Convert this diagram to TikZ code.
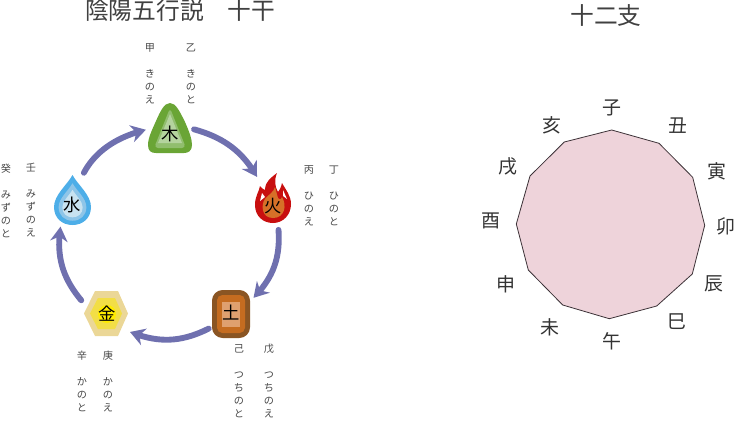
\documentclass[tikz,border=0pt]{standalone}
\usepackage{fontspec}
\setmainfont{Noto Sans CJK JP}
\usetikzlibrary{arrows.meta,bending}

\definecolor{cycleblue}{RGB}{111,112,175}
\definecolor{textgray}{RGB}{70,70,70}

\tikzset{every picture/.style={line width=0.75pt}}
\tikzset{
  titletext/.style={text=black!75,font=\fontsize{17.8}{20}\selectfont,inner sep=0pt},
  branchtext/.style={text=black!80,font=\fontsize{14.2}{16}\selectfont,inner sep=0pt},
  stemtext/.style={text=textgray,font=\fontsize{7.6}{9.75}\selectfont,align=center,anchor=north,inner sep=0pt},
  elemtext/.style={circle,text=black,font=\fontsize{13}{15}\selectfont,inner sep=0pt,minimum size=#1},
  cyclearrow/.style={draw=cycleblue,line width=4.4pt,line cap=round,-{Stealth[length=11pt,width=13pt,flex=1]}},
}

\begin{document}
\begin{tikzpicture}[x=0.75pt,y=0.75pt,yscale=-1,xscale=1]
\useasboundingbox (0,0) rectangle (737,421);

%Shape: Wood
\fill [color={rgb, 255:red, 106; green, 165; blue, 53 }] (170,103) .. controls (176,103) and (180,112) .. (185,122) .. controls (189,131) and (192,139) .. (192,145) .. controls (192,151) and (188,153) .. (184,153) -- (156,153) .. controls (151,153) and (148,151) .. (148,145) .. controls (148,138) and (152,130) .. (156,121) .. controls (160,112) and (164,103) .. (170,103) -- cycle ;
\fill [color={rgb, 255:red, 145; green, 190; blue, 110 }] [rounded corners=3] (170,108) -- (186,148) -- (154,148) -- cycle ;
\fill [color={rgb, 255:red, 180; green, 211; blue, 158 }] (170,114) -- (182,143) -- (158,143) -- cycle ;

%Shape: Fire
\fill [color={rgb, 255:red, 200; green, 15; blue, 15 }] (277,173) .. controls (272,177) and (265,181) .. (265,190) .. controls (263,189) and (261,188) .. (260,186) .. controls (259,192) and (255,196) .. (255,205) .. controls (255,216) and (263,223) .. (273,223) .. controls (283,223) and (291,215) .. (291,204) .. controls (291,196) and (286,190) .. (282,183) .. controls (281,187) and (280,190) .. (278,192) .. controls (275,187) and (274,180) .. (277,173) -- cycle ;
\fill [white] (262,193) -- (260,201) -- (265,197) -- cycle ;
\fill [white] (283,190) -- (287,199) -- (283,196) -- cycle ;
\fill [color={rgb, 255:red, 214; green, 112; blue, 40 }] (275,187) .. controls (274,192) and (268,195) .. (265,199) .. controls (261,204) and (261,218) .. (273,218) .. controls (285,218) and (287,205) .. (282,197) .. controls (281,200) and (279,200) .. (278,198) -- cycle ;

%Shape: Earth
\fill [color={rgb, 255:red, 138; green, 85; blue, 35 }] [rounded corners=8] (212,290) rectangle (250,338) ;
\fill [color={rgb, 255:red, 197; green, 108; blue, 32 }] [rounded corners=4] (217,295) rectangle (245,333) ;
\fill [color={rgb, 255:red, 223; green, 160; blue, 111 }] (222,302) rectangle (240,327) ;

%Shape: Metal
\fill [color={rgb, 255:red, 235; green, 215; blue, 151 }] (84,313.5) -- (95,291) -- (118,291) -- (128,313.5) -- (118,336) -- (95,336) -- cycle ;
\fill [color={rgb, 255:red, 242; green, 222; blue, 70 }] (90,313.5) -- (98,298) -- (115,298) -- (122,313.5) -- (115,329) -- (98,329) -- cycle ;
\fill [color={rgb, 255:red, 255; green, 236; blue, 0 }] (107,314) circle (9) ;

%Shape: Water
\fill [color={rgb, 255:red, 77; green, 174; blue, 232 }] (72.5,175) .. controls (78,185) and (91,195) .. (91,207) .. controls (91,218) and (83,225) .. (72.5,225) .. controls (62,225) and (54,218) .. (54,207) .. controls (54,195) and (67,185) .. (72.5,175) -- cycle ;
\begin{scope}[shift={(72.5,208)},scale=0.75]
\fill [color={rgb, 255:red, 142; green, 197; blue, 232 }] (0,-33) .. controls (5.5,-23) and (18.5,-13) .. (18.5,-1) .. controls (18.5,10) and (10.5,17) .. (0,17) .. controls (-10.5,17) and (-18.5,10) .. (-18.5,-1) .. controls (-18.5,-13) and (-5.5,-23) .. (0,-33) -- cycle ;
\end{scope}
\begin{scope}[shift={(72.5,208)},scale=0.55]
\fill [color={rgb, 255:red, 200; green, 226; blue, 240 }] (0,-33) .. controls (5.5,-23) and (18.5,-13) .. (18.5,-1) .. controls (18.5,10) and (10.5,17) .. (0,17) .. controls (-10.5,17) and (-18.5,10) .. (-18.5,-1) .. controls (-18.5,-13) and (-5.5,-23) .. (0,-33) -- cycle ;
\end{scope}

%Element nodes
\node [elemtext=36pt] (wood) at (170,134) {木};
\node [elemtext=36pt] (fire) at (273,206) {火};
\node [elemtext=40pt] (earth) at (231,313) {土};
\node [elemtext=43pt] (metal) at (107,314) {金};
\node [elemtext=36pt] (water) at (72,205) {水};

%Curve Lines
\draw [cyclearrow,shorten >=6.5pt] (wood.11) to [bend right=24] (fire.119) ;
\draw [cyclearrow] (fire.-77) to [bend right=24] (earth.34) ;
\draw [cyclearrow] (earth.215) to [bend right=24] (metal.-38) ;
\draw [cyclearrow] (metal.152) to [bend right=24] (water.242) ;
\draw [cyclearrow,shorten <=7.5pt] (water.73) to [bend right=24] (wood.170) ;

%Ten stems
\node [stemtext] (kinoe) at (150,43.5) {甲\\[9.75pt]き\\の\\え};
\node [stemtext] (kinoto) at (191,43.5) {乙\\[9.75pt]き\\の\\と};
\node [stemtext] (hinoe) at (309,165) {丙\\[9.75pt]ひ\\の\\え};
\node [stemtext] (hinoto) at (334,165) {丁\\[9.75pt]ひ\\の\\と};
\node [stemtext] (tsuchinoe) at (269,343.5) {戊\\[9.75pt]つ\\ち\\の\\え};
\node [stemtext] (tsuchinoto) at (239,344.5) {己\\[9.75pt]つ\\ち\\の\\と};
\node [stemtext] (kanoe) at (108,350) {庚\\[9.75pt]か\\の\\え};
\node [stemtext] (kanoto) at (82,350) {辛\\[9.75pt]か\\の\\と};
\node [stemtext] (mizunoe) at (31,163) {壬\\[9.75pt]み\\ず\\の\\え};
\node [stemtext] (mizunoto) at (6,163) {癸\\[9.75pt]み\\ず\\の\\と};

%Titles
\node [titletext] (stemstitle) at (180,11) {陰陽五行説　十干};
\node [titletext] (branchtitle) at (606,16) {十二支};

%Shape: Polygon
\draw [draw={rgb, 255:red, 60; green, 50; blue, 55 },fill={rgb, 255:red, 238; green, 211; blue, 218 },line width=0.6pt] (611.7,130) -- (659,143.3) -- (692.7,177.3) -- (704.7,225.3) -- (692.3,274) -- (656.7,306) -- (609.3,318.7) -- (562.7,305) -- (528.3,270) -- (516.3,224) -- (530,176) -- (564.3,142) -- cycle ;

%Twelve branches
\node [branchtext] (ne) at (612,108) {子};
\node [branchtext] (ushi) at (678,126) {丑};
\node [branchtext] (tora) at (717,171) {寅};
\node [branchtext] (u) at (726,226) {卯};
\node [branchtext] (tatsu) at (714,284) {辰};
\node [branchtext] (mi) at (677,322) {巳};
\node [branchtext] (uma) at (612,341) {午};
\node [branchtext] (hitsuji) at (550,327) {未};
\node [branchtext] (saru) at (506,284) {申};
\node [branchtext] (tori) at (491,221) {酉};
\node [branchtext] (inu) at (508,166) {戌};
\node [branchtext] (i) at (552,125) {亥};
\end{tikzpicture}
\end{document}
